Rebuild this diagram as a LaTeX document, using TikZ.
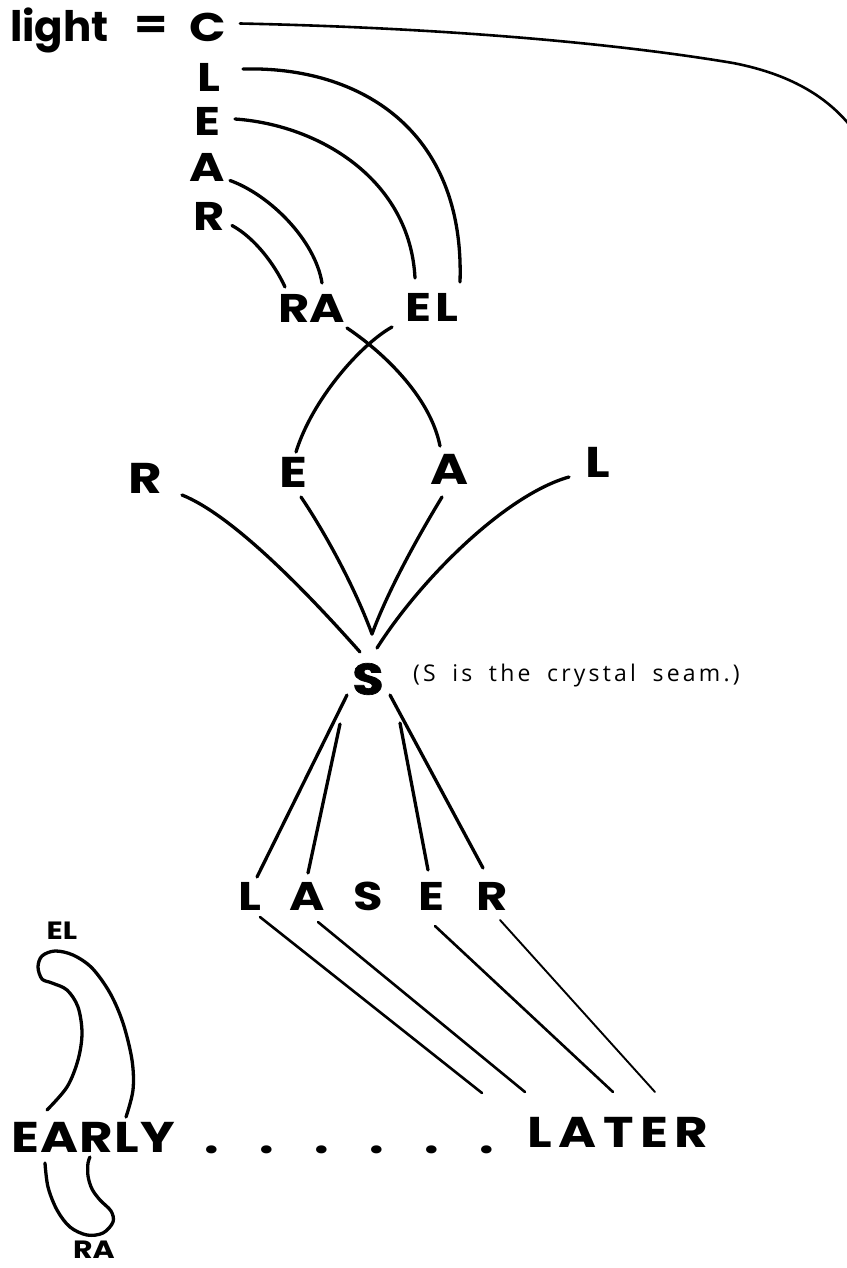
\documentclass[tikz,border=0pt]{standalone}
\usepackage{fontspec}
\setmainfont{Poppins}[FakeStretch=1.2]
\newfontfamily\lightfont{Poppins}
\newfontfamily\annot{Open Sans}[LetterSpace=14,WordSpace=1.8]
\newfontfamily\heavy{Poppins}[FakeStretch=1.15,BoldFeatures={FakeBold=1.5}]
\usetikzlibrary{calc}
\begin{document}
\begin{tikzpicture}[x=1pt,y=-1pt,line cap=round,
  ln/.style={line width=3.3pt},
  lnthin/.style={line width=2.6pt},
  lnhair/.style={line width=1.9pt},
  ltr/.style={inner sep=0pt,font=\fontsize{40}{40}\selectfont\bfseries},
  ltrbig/.style={inner sep=0pt,font=\fontsize{43}{43}\selectfont\bfseries},
  ltrsmall/.style={inner sep=0pt,font=\fontsize{25}{25}\selectfont\bfseries},
  note/.style={inner sep=0pt,font=\fontsize{23}{23}\selectfont\annot}]
\fill[white] (0,0) rectangle (846,1268);
\useasboundingbox (0,0) rectangle (846,1268);

% top column
\node[inner sep=0pt,font=\fontsize{42}{42}\selectfont\lightfont\bfseries,anchor=base west] (light) at (10,42) {light};
\node[ltr] (eq) at (151,27) {=};
\node[ltr] (C) at (208,27.5) {C};
\node[ltr] (L) at (209,77.5) {L};
\node[ltr] (E) at (207,121) {E};
\node[ltr] (A) at (207,167.5) {A};
\node[ltr] (R) at (209,216.5) {R};
\node[ltr] (RA) at (312,308) {RA};
\node[ltr] (EL) at (432,307) {\addfontfeatures{LetterSpace=10}EL};

% middle row
\node[ltrbig] (mR) at (145,478) {R};
\node[ltrbig] (mE) at (293,472) {E};
\node[ltrbig] (mA) at (450,469) {A};
\node[ltrbig] (mL) at (598,462) {L};

% seam
\node[inner sep=0pt,font=\fontsize{44}{44}\selectfont\heavy\bfseries] (S) at (368,679) {S};
\node[note,anchor=base west] (note) at (413,681) {(S is the crystal seam.)};
\coordinate (V) at (372,634);

% LASER
\node[ltr] (xL) at (250,896) {L};
\node[ltr] (xA) at (307,896) {A};
\node[ltr] (xS) at (368,896) {S};
\node[ltr] (xE) at (431,896) {E};
\node[ltr] (xR) at (492,896) {R};

% bottom line
\node[ltrbig] (EARLY) at (93,1137.5) {\addfontfeatures{LetterSpace=3}EARLY};
\node[ltrbig,anchor=base west] (dots) at (184.5,1153) {\makebox[55pt][c]{.}\makebox[55pt][c]{.}\makebox[55pt][c]{.}\makebox[55pt][c]{.}\makebox[55pt][c]{.}\makebox[55pt][c]{.}};
\node[ltrbig] (LATER) at (618,1132) {\addfontfeatures{LetterSpace=15}LATER};
\node[ltrsmall] (sEL) at (62,931) {EL};
\node[ltrsmall] (sRA) at (94,1250) {RA};

% connectors top
\coordinate (cMid) at (733,63);
\coordinate (cEnd) at (852,128);
\draw[lnthin] ($(C)+(32,-4)$) .. controls (450,28) and (620,44) .. (cMid)
   .. controls (795,75) and (830,100) .. (cEnd);
\draw[ln] ($(L)+(34,-8.5)$) .. controls (360,66) and (465,130) .. ($(EL)+(28,-25)$);
\draw[ln] ($(E)+(28,-2)$) .. controls (320,125) and (410,180) .. ($(EL)+(-17,-29)$);
\draw[ln] ($(A)+(23,13)$) .. controls (270,195) and (315,240) .. ($(RA)+(10,-25)$);
\draw[ln] ($(R)+(23,9)$) .. controls (255,238) and (275,265) .. ($(RA)+(-27,-21)$);

% crossing
\draw[ln] ($(RA)+(35,20)$) .. controls (380,350) and (430,395) .. ($(mA)+(-10,-23)$);
\draw[ln] ($(EL)+(-40,20)$) .. controls (360,345) and (312,400) .. ($(mE)+(3,-20)$);

% into S
\draw[ln] ($(mR)+(37,17)$) .. controls (232,515) and (305,590) .. ($(S)+(-8,-27)$);
\draw[ln] ($(mE)+(8,25)$) .. controls (320,525) and (352,580) .. (V);
\draw[ln] ($(mA)+(-8,28)$) .. controls (425,525) and (390,585) .. (V);
\draw[ln] ($(mL)+(-29,15)$) .. controls (505,495) and (420,580) .. ($(S)+(9,-31)$);

% S to LASER
\draw[ln] ($(S)+(-21,16)$) -- ($(xL)+(7,-19)$);
\draw[ln] ($(S)+(-28,45)$) -- ($(xA)+(1,-23)$);
\draw[ln] ($(S)+(32,44)$) -- ($(xE)+(-3,-26)$);
\draw[ln] ($(S)+(22,16)$) -- ($(xR)+(-9,-28)$);

% LASER to LATER
\draw[lnthin] ($(xL)+(10,21)$) -- ($(LATER)+(-136,-39)$);
\draw[lnthin] ($(xA)+(11,26)$) -- ($(LATER)+(-93,-40)$);
\draw[lnthin] ($(xE)+(4,30)$) -- ($(LATER)+(-5,-40)$);
\draw[lnhair] ($(xR)+(8,24)$) -- ($(LATER)+(37,-40)$);

% EARLY loops
\draw[ln] plot[smooth,tension=0.55] coordinates {($(EARLY)+(-46,-27.5)$) (67,1087) (78,1060) (82,1033) (78,1007) (67,990) (52,983) (42,979) (38,967) (42,956) (55,951) (73,955) (92,968) (110,993) (123,1023) (132,1060) (133,1090) ($(EARLY)+(33,-20.5)$)};
\draw[ln] plot[smooth,tension=0.55] coordinates {($(EARLY)+(-48,25.5)$) (48,1187) (57,1210) (70,1227) (87,1235) (103,1233) (113,1222) (111,1211) (100,1200) (92,1189) (88,1176) (88,1163) ($(EARLY)+(-3,19.5)$)};
\end{tikzpicture}
\end{document}
